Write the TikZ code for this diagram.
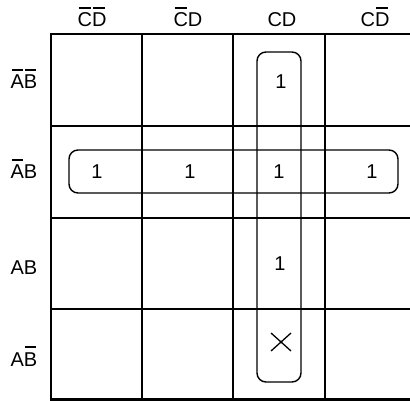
\documentclass[tikz,border=0pt]{standalone}
\usetikzlibrary{calc}
\usepackage{fontspec}
\setmainfont{Liberation Sans}
\newcommand{\ob}[1]{\setbox0\hbox{#1}\rlap{\hbox to \wd0{\hss\vrule height 20pt depth -18.2pt width \dimexpr\wd0-2pt\relax\hss}}\box0}
\begin{document}
\begin{tikzpicture}[x=1pt,y=-1pt,
  lbl/.style={font=\fontsize{20}{22}\selectfont, inner sep=0pt},
  val/.style={font=\fontsize{20}{22}\selectfont, inner sep=0pt},
  outer/.style={line width=2.4pt},
  inner/.style={line width=1.6pt},
  loop/.style={line width=1.4pt, rounded corners=9pt}]
\useasboundingbox (0,0) rectangle (410,401);
% grid
\draw[inner] (51,126) -- (410,126) (51,218) -- (410,218) (51,309) -- (410,309);
\draw[inner] (142,34) -- (142,399) (233,34) -- (233,399) (325,34) -- (325,399);
\draw[outer] (410,34) -- (51,34) -- (51,399.5) -- (410,399.5);
% column labels
\node[lbl,anchor=base] (c1) at (92,27) {\ob{C}\ob{D}};
\node[lbl,anchor=base] (c2) at (188,27) {\ob{C}D};
\node[lbl,anchor=base] (c3) at (282,27) {CD};
\node[lbl,anchor=base] (c4) at (375,27) {C\ob{D}};
% row labels
\node[lbl,anchor=base] (r1) at (24,89) {\ob{A}\ob{B}};
\node[lbl,anchor=base] (r2) at (24,179) {\ob{A}B};
\node[lbl,anchor=base] (r3) at (24,274) {AB};
\node[lbl,anchor=base] (r4) at (24,366) {A\ob{B}};
% values
\node[val] (v13) at (281,82) {1};
\node[val] (v21) at (97,172) {1};
\node[val] (v22) at (190,172) {1};
\node[val] (v23) at (279,172) {1};
\node[val] (v24) at (372,172) {1};
\node[val] (v33) at (280,264) {1};
\coordinate (x0) at (281,342);
\draw[line width=1.3pt] ($(x0)+(-10,-9)$) -- ($(x0)+(10,9)$) ($(x0)+(-10,9)$) -- ($(x0)+(10,-9)$);
% loops
\draw[loop] (257,52) rectangle (301,382);
\draw[loop] (69,150) rectangle (398,193);
\end{tikzpicture}
\end{document}
